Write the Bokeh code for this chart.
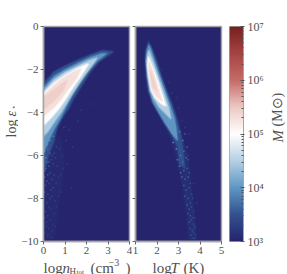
import math
import numpy as np
from bokeh.embed import file_html
from bokeh.resources import INLINE
from bokeh.layouts import row, column
from bokeh.plotting import figure
from bokeh.models import ColumnDataSource, LinearColorMapper, Label, FixedTicker, Range1d

# colour scale of log10 M
scale_colors = ["#25246c", "#32528f", "#6097c4", "#b5d0e3", "#ffffff", "#edc9c3", "#c56c68", "#a64444", "#782020"]
scale_levels = [3.0, 3.5, 4.0, 4.5, 5.0, 5.5, 6.0, 6.5, 7.0]

# iso-mass outlines of the density panel: (log M, log n, log eps)
n_outlines = [
 (3.07, [0,0.3,0.55,0.8,0.98,0.88,0.7,0.5,0], [-6.0,-5.6,-5.2,-5.1,-6.2,-7.4,-8.3,-9.9,-9.9]),
 (3.5, [0,0.48,0.95,1.57,2.19,2.73,3.25,3.03,2.57,2.19,1.8,1.41,1.18,0.87,0.64,0.48,0.25,0.12,0],
        [-2.65,-2.11,-1.85,-1.57,-1.30,-1.11,-1.16,-1.34,-1.65,-2.11,-2.73,-3.35,-3.81,-4.27,-4.72,-5.36,-5.97,-6.5,-6.6]),
 (4.0, [0,0.5,1.0,1.6,2.2,2.7,2.95,2.5,2.1,1.7,1.3,1.05,0.8,0.55,0.3,0.12,0],
       [-2.85,-2.3,-2.0,-1.7,-1.42,-1.25,-1.25,-1.6,-2.05,-2.6,-3.25,-3.75,-4.25,-4.7,-5.2,-5.6,-5.9]),
 (4.5, [0,0.5,1.0,1.6,2.1,2.5,2.3,1.9,1.5,1.15,0.85,0.5,0.2,0],
       [-3.0,-2.45,-2.12,-1.83,-1.58,-1.45,-1.75,-2.3,-2.9,-3.45,-3.95,-4.45,-4.9,-5.1]),
 (5.0, [0,0.5,1.0,1.5,2.0,2.1,1.75,1.4,1.05,0.7,0.35,0],
       [-3.1,-2.6,-2.25,-1.98,-1.75,-1.75,-2.3,-2.8,-3.35,-3.85,-4.25,-4.6]),
 (5.3, [0,0.4,0.8,1.3,1.75,1.55,1.2,0.85,0.5,0.2,0],
        [-3.2,-2.8,-2.45,-2.15,-1.95,-2.4,-2.85,-3.35,-3.75,-4.0,-4.2]),
 (5.45, [0,0.4,0.8,1.1,0.9,0.5,0.2,0],
        [-3.3,-3.0,-2.7,-2.5,-3.0,-3.45,-3.7,-3.85]),
]

# iso-mass outlines of the temperature panel: (log M, log T, log eps)
t_outlines = [
 (3.12, [1.6,1.72,1.95,2.2,2.45,2.7,2.98,3.2,3.42,3.6,3.75,3.82,3.47,3.4,3.17,2.86,2.55,2.16,1.78,1.6,1.5,1.45,1.47],
        [-0.62,-0.85,-1.45,-2.25,-2.95,-3.55,-4.35,-5.2,-5.9,-7.3,-8.8,-9.9,-9.9,-8.84,-7.31,-5.93,-5.0,-4.2,-3.6,-3.0,-2.3,-1.6,-1.1]),
 (3.5, [1.6,1.72,1.95,2.2,2.45,2.7,2.95,3.1,3.2,3.3,3.05,2.95,2.6,2.2,1.8,1.6,1.5,1.46,1.48],
       [-0.72,-0.95,-1.5,-2.3,-3.0,-3.6,-4.4,-5.0,-5.6,-6.6,-6.4,-5.6,-4.85,-4.2,-3.55,-3.0,-2.3,-1.6,-1.1]),
 (4.0, [1.62,1.72,1.9,2.1,2.35,2.6,2.8,2.9,2.95,2.7,2.4,2.1,1.8,1.65,1.55,1.5,1.53],
       [-0.85,-1.05,-1.6,-2.2,-2.9,-3.6,-4.2,-4.7,-5.3,-5.0,-4.55,-4.05,-3.5,-3.0,-2.3,-1.6,-1.15]),
 (4.5, [1.63,1.8,2.05,2.3,2.55,2.65,2.45,2.1,1.85,1.7,1.58,1.52,1.55],
       [-1.1,-1.55,-2.3,-3.0,-3.75,-4.3,-4.1,-3.75,-3.35,-3.0,-2.3,-1.6,-1.3]),
 (5.0, [1.6,1.78,2.0,2.2,2.42,2.2,1.9,1.72,1.62,1.55],
       [-1.4,-1.8,-2.4,-3.0,-3.7,-3.6,-3.3,-2.95,-2.4,-1.8]),
 (5.3, [1.62,1.78,1.95,2.1,2.25,1.95,1.75,1.66,1.6],
        [-1.6,-2.0,-2.5,-3.0,-3.5,-3.25,-2.9,-2.4,-1.9]),
 (5.45, [1.7,1.85,2.0,1.8,1.72],
        [-2.0,-2.5,-3.0,-2.8,-2.4]),
]

# isolated low-mass cells
n_cell_x = [0.05,0.1,0.2,0.3,0.4,0.15,0.25,0.35,0.5,0.6,0.1,0.2,0.45,0.55,0.75,0.05,0.15,0.3,0.4,0.65,0.85,0.1,0.25,0.35,0.5,0.7,0.05,0.2,0.3,0.45,0.6,0.9,0.15,0.25,0.4,0.55,0.1,0.2,0.35,0.5,0.75,0.05,0.15,0.3,0.45,0.6,0.1,0.25,0.4,0.05,0.2,0.35,0.55,0.15,0.3,0.1,0.45,0.05,0.25,1.05,1.2,0.95,1.35,1.6,1.1,1.75,0.8,0.7,2.3,1.3]
n_cell_y = [-5.8,-6.1,-5.7,-5.9,-6.0,-6.3,-6.5,-6.2,-5.9,-5.6,-6.6,-6.9,-6.4,-6.1,-5.7,-7.0,-7.2,-6.8,-7.1,-6.5,-6.0,-7.4,-7.3,-7.6,-6.9,-7.0,-7.7,-7.8,-8.0,-7.5,-7.3,-6.6,-8.2,-8.4,-7.9,-8.1,-8.6,-8.8,-8.5,-8.7,-7.7,-8.9,-9.1,-9.0,-9.2,-8.4,-9.3,-9.4,-9.5,-9.6,-9.7,-9.8,-9.3,-5.5,-5.3,-5.2,-5.1,-6.7,-6.3,-5.3,-4.8,-4.7,-5.6,-4.4,-6.4,-3.9,-6.9,-7.9,-3.6,-7.5]
n_cell_m = [3.9,3.8,3.7,3.6,3.5,3.7,3.6,3.5,3.45,3.4,3.7,3.6,3.45,3.35,3.4,3.6,3.55,3.5,3.45,3.35,3.3,3.5,3.45,3.4,3.4,3.3,3.5,3.45,3.4,3.4,3.35,3.3,3.45,3.35,3.35,3.3,3.4,3.35,3.35,3.3,3.3,3.4,3.35,3.3,3.3,3.25,3.35,3.3,3.3,3.3,3.3,3.25,3.25,4.1,3.9,4.2,3.8,3.7,3.6,3.4,3.35,3.4,3.3,3.3,3.3,3.3,3.3,3.3,3.25,3.25]

t_cell_x = [3.05,3.2,3.3,2.75,2.9,3.1,3.25,3.4,2.95,3.05,3.2,3.35,3.45,3.1,3.25,3.4,3.5,3.15,3.3,3.45,3.55,3.25,3.35,3.5,3.6,3.3,3.45,3.55,3.65,3.4,3.5,3.6,3.7,3.45,3.55,3.65,3.75,3.5,3.6,3.7,3.78,3.55,3.65,3.75,3.6,3.7,3.8,3.65,3.75,3.3,3.5,3.7,3.85,2.7,3.0,2.25,2.55,3.45,2.9,3.15]
t_cell_y = [-4.9,-5.3,-5.0,-5.4,-5.7,-6.0,-5.8,-5.6,-6.2,-6.5,-6.3,-6.1,-6.2,-6.8,-6.7,-6.6,-6.8,-7.0,-7.1,-7.0,-7.3,-7.4,-7.6,-7.5,-7.8,-7.9,-8.0,-8.2,-8.0,-8.3,-8.5,-8.4,-8.6,-8.7,-8.8,-8.9,-8.9,-9.1,-9.0,-9.2,-9.3,-9.4,-9.5,-9.4,-9.7,-9.6,-9.7,-9.85,-9.85,-4.7,-5.0,-7.3,-8.2,-3.1,-3.8,-2.0,-2.6,-6.0,-3.3,-4.4]
t_cell_m = [3.8,3.8,3.6,3.9,3.9,3.8,3.7,3.6,3.8,3.8,3.7,3.7,3.55,3.7,3.7,3.6,3.55,3.7,3.65,3.6,3.5,3.65,3.6,3.55,3.45,3.6,3.6,3.5,3.45,3.6,3.55,3.5,3.4,3.55,3.55,3.5,3.4,3.55,3.5,3.45,3.4,3.5,3.5,3.4,3.5,3.45,3.4,3.45,3.4,3.3,3.3,3.3,3.25,3.3,3.3,3.25,3.25,3.3,3.25,3.25]

y_ticks = [0, -2, -4, -6, -8, -10]
y_tick_labels = ["0", "−2", "−4", "−6", "−8", "−10"]
n_ticks = [0, 1, 2, 3, 4]
t_ticks = [1, 2, 3, 4, 5]
bar_ticks = [3, 4, 5, 6, 7]
bar_tick_labels = ["10³", "10⁴", "10⁵", "10⁶", "10⁷"]

FONT = "Liberation Serif"
INK = "#505050"
SPINE = "#a6a6a6"

def lerp_palette(colors, levels, n=256):
    rgb = np.array([[int(c[i:i+2], 16) for i in (1, 3, 5)] for c in colors], dtype=float)
    t = np.linspace(levels[0], levels[-1], n)
    out = np.column_stack([np.interp(t, levels, rgb[:, k]) for k in range(3)]).round().astype(int)
    return ["#%02x%02x%02x" % tuple(c) for c in out]

mapper = LinearColorMapper(palette=lerp_palette(scale_colors, scale_levels), low=3, high=7)
H = 256
T, B = 26, 14

def level_color(m):
    return mapper.palette[int((m - 3) / 4 * 255)]

def panel(width, left, right, xrange_, xticks, outlines, cx, cy, cm):
    p = figure(width=width, height=H, x_range=Range1d(*xrange_), y_range=Range1d(-10, 0),
               toolbar_location=None, output_backend="svg",
               min_border_left=left, min_border_right=right, min_border_top=T, min_border_bottom=B)
    p.outline_line_color = SPINE
    p.outline_line_width = 1.5
    p.grid.visible = False
    p.background_fill_color = mapper.palette[0]
    p.border_fill_color = None
    for ax in (p.xaxis[0], p.yaxis[0]):
        ax.axis_line_color = SPINE
        ax.axis_line_width = 1.5
        ax.major_tick_line_color = "#666666"
        ax.major_tick_in = 0
        ax.major_tick_out = 3
        ax.minor_tick_line_color = None
        ax.major_label_text_font = FONT
        ax.major_label_text_font_size = "11px"
        ax.major_label_text_color = INK
        ax.major_label_standoff = 2
    p.xaxis[0].ticker = FixedTicker(ticks=xticks)
    p.xaxis[0].major_label_overrides = {t: str(t) for t in xticks}
    p.yaxis[0].ticker = FixedTicker(ticks=y_ticks)
    for m, xs, ys in outlines[:2]:
        p.patch(xs, ys, fill_color=level_color(m), line_color=level_color(m), line_alpha=0.35, line_width=2.5)
    src = ColumnDataSource(dict(x=cx, y=cy, m=cm))
    p.rect("x", "y", width=0.07, height=0.07, source=src, line_color=None,
           fill_color={"field": "m", "transform": mapper})
    for m, xs, ys in outlines[2:]:
        p.patch(xs, ys, fill_color=level_color(m), line_color=level_color(m), line_alpha=0.35, line_width=2.5)
    return p

def text_strip(width, height):
    f = figure(width=width, height=height, x_range=Range1d(0, 1), y_range=Range1d(0, 1),
               toolbar_location=None, output_backend="svg",
               x_axis_location=None, y_axis_location=None,
               min_border_left=0, min_border_right=0, min_border_top=0, min_border_bottom=0)
    f.outline_line_color = None
    f.grid.visible = False
    f.border_fill_color = None
    f.background_fill_color = None
    return f

def frag(p, x, y, text, size, style_="normal", angle=0, font=FONT):
    p.add_layout(Label(x=x, y=y, x_units="screen", y_units="screen", text=text,
                       text_font=font, text_font_size=f"{size}px", text_font_style=style_,
                       text_color=INK, angle=angle, text_baseline="alphabetic", text_align="left"))

p1 = panel(114, 25, 3, (0, 4), n_ticks, n_outlines, n_cell_x, n_cell_y, n_cell_m)
p1.yaxis[0].major_label_overrides = dict(zip(y_ticks, y_tick_labels))

p2 = panel(93, 3, 4, (1, 5), t_ticks, t_outlines, t_cell_x, t_cell_y, t_cell_m)
p2.yaxis[0].major_label_text_font_size = "0px"
p2.yaxis[0].major_label_text_color = None

# colour bar
p3 = figure(width=41, height=H, x_range=Range1d(0, 1), y_range=Range1d(3, 7),
            toolbar_location=None, output_backend="svg",
            y_axis_location="right", x_axis_location=None,
            min_border_left=4, min_border_right=21, min_border_top=T, min_border_bottom=B)
p3.grid.visible = False
p3.border_fill_color = None
p3.outline_line_color = SPINE
p3.outline_line_width = 1
grad = np.linspace(3, 7, 256).reshape(-1, 1)
p3.image(image=[grad], x=0, y=3, dw=1, dh=4, color_mapper=mapper)
ax = p3.yaxis[0]
minor = [d + math.log10(k) for d in (3, 4, 5, 6) for k in range(2, 10)]
ax.ticker = FixedTicker(ticks=bar_ticks, minor_ticks=minor)
ax.major_label_overrides = dict(zip(bar_ticks, bar_tick_labels))
ax.major_label_text_font = FONT
ax.major_label_text_font_size = "12px"
ax.major_label_text_color = INK
ax.major_label_standoff = 3
ax.axis_line_color = SPINE
ax.major_tick_line_color = "#555555"
ax.minor_tick_line_color = "#555555"
ax.major_tick_in, ax.major_tick_out = 3, 1
ax.minor_tick_in, ax.minor_tick_out = 2, 0

# titles live in thin strips around the panels
up = math.pi / 2
left = text_strip(18, H)
frag(left, 11, 256 - 152, "log", 14, angle=up)
frag(left, 11, 256 - 131, "ε", 14, "italic", angle=up)
frag(left, 13, 256 - 124, "⋆", 7, angle=up, font="DejaVu Sans")

right = text_strip(21, H)
frag(right, 11, 256 - 157, "M", 15, "italic", angle=up)
frag(right, 11, 256 - 141, "(M⊙)", 14, angle=up)

bottom = text_strip(287, 18)
b = 7
frag(bottom, 43, b, "log", 15)
frag(bottom, 62, b, "n", 15, "italic")
frag(bottom, 69, b - 3, "H", 9)
frag(bottom, 76, b - 4, "tot", 7)
frag(bottom, 90, b, "(cm", 15)
frag(bottom, 108, b + 5, "−3", 10)
frag(bottom, 125, b, ")", 15)
frag(bottom, 152, b, "log", 15)
frag(bottom, 170, b, "T", 15, "italic")
frag(bottom, 183, b, "(K)", 15)

page = column(row(left, p1, p2, p3, right, spacing=0), bottom, spacing=0)
open("out.html", "w").write(file_html(page, INLINE))
